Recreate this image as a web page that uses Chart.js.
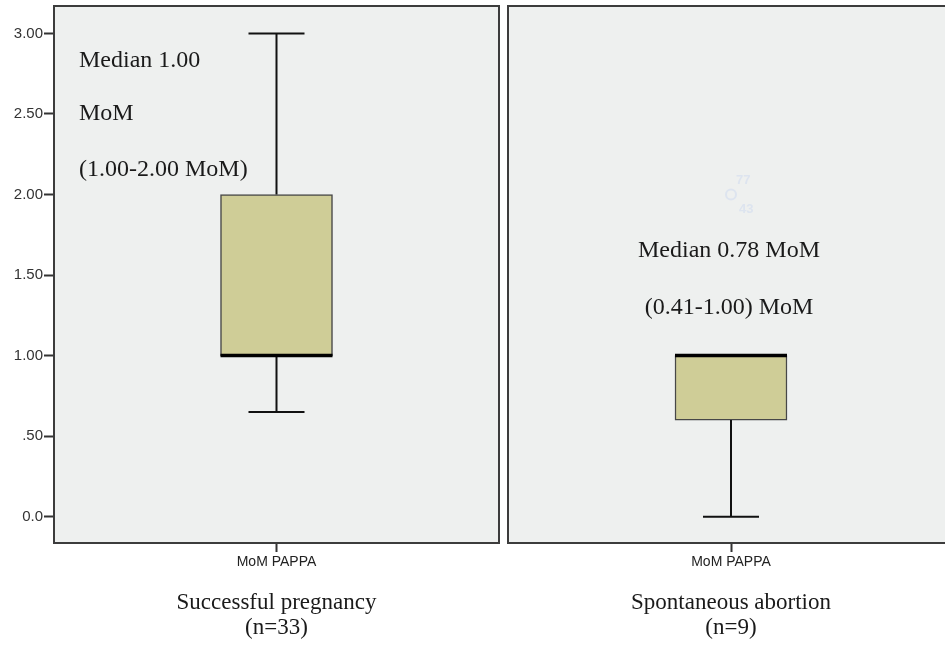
<!DOCTYPE html>
<html><head><meta charset="utf-8">
<script src="https://cdn.jsdelivr.net/npm/chart.js@4.4.1/dist/chart.umd.min.js"></script>
<style>
html,body{margin:0;padding:0;background:#fff;width:945px;height:646px;overflow:hidden;position:relative}
canvas{position:absolute;top:0}
#c0{left:0}
#c1{left:503px}
</style></head><body>
<canvas id="c0" width="503" height="646"></canvas>
<canvas id="c1" width="451" height="646"></canvas>
<script>
// ---- data ----
const categories = ['MoM PAPPA'];
const groupNames = ['Successful pregnancy', 'Spontaneous abortion'];
const groupSizes = ['(n=33)', '(n=9)'];
const whiskerLow = [0.65, 0.00];
const quartile1 = [1.00, 0.60];
const medians = [1.00, 1.00];
const quartile3 = [2.00, 1.00];
const whiskerHigh = [3.00, 1.00];
const outlierValues = [[], [2.00]];
const outlierLabels = [[], ['77', '43']];
const annotationLines = [['Median 1.00', 'MoM', '(1.00-2.00 MoM)'], ['Median 0.78 MoM', '(0.41-1.00) MoM']];
const tickValues = [0, 0.5, 1, 1.5, 2, 2.5, 3];
const tickLabels = ['0.0', '.50', '1.00', '1.50', '2.00', '2.50', '3.00'];
const yMin = -0.163, yMax = 3.17;

const SERIF = '"Liberation Serif","Times New Roman",serif';
const SANS = '"Liberation Sans",Arial,sans-serif';

const panelPlugin = {
  id: 'panel',
  beforeDraw(chart) {
    const a = chart.chartArea, ctx = chart.ctx;
    ctx.save();
    ctx.fillStyle = '#eef0ef';
    ctx.fillRect(a.left, a.top, a.right - a.left, a.bottom - a.top);
    ctx.restore();
  },
  afterDatasetsDraw(chart, args, opts) {
    const g = opts.group;
    const ctx = chart.ctx, ys = chart.scales.y;
    const a = chart.chartArea;
    const bar = chart.getDatasetMeta(0).data[0];
    const cx = bar.x, half = bar.width / 2, cap = half / 2;
    ctx.save();
    ctx.strokeStyle = '#111';
    ctx.lineWidth = 2;
    const yLo = ys.getPixelForValue(whiskerLow[g]);
    const yQ1 = ys.getPixelForValue(quartile1[g]);
    const yQ3 = ys.getPixelForValue(quartile3[g]);
    const yHi = ys.getPixelForValue(whiskerHigh[g]);
    ctx.beginPath();
    if (whiskerHigh[g] > quartile3[g]) {
      ctx.moveTo(cx, yQ3); ctx.lineTo(cx, yHi);
      ctx.moveTo(cx - cap, yHi); ctx.lineTo(cx + cap, yHi);
    }
    if (whiskerLow[g] < quartile1[g]) {
      ctx.moveTo(cx, yQ1); ctx.lineTo(cx, yLo);
      ctx.moveTo(cx - cap, yLo); ctx.lineTo(cx + cap, yLo);
    }
    ctx.stroke();
    // median
    const yMed = ys.getPixelForValue(medians[g]);
    ctx.lineWidth = 3.5;
    ctx.strokeStyle = '#000';
    ctx.beginPath();
    ctx.moveTo(cx - half, yMed); ctx.lineTo(cx + half, yMed);
    ctx.stroke();
    // outliers (faint)
    outlierValues[g].forEach(v => {
      const py = ys.getPixelForValue(v);
      ctx.strokeStyle = '#dde4ef';
      ctx.lineWidth = 2;
      ctx.beginPath();
      ctx.arc(cx, py, 5, 0, Math.PI * 2);
      ctx.stroke();
      ctx.fillStyle = '#dde4ef';
      ctx.font = 'bold 13px ' + SANS;
      ctx.textAlign = 'left';
      ctx.textBaseline = 'middle';
      const labs = outlierLabels[g];
      if (labs[0]) ctx.fillText(labs[0], cx + 5, py - 14);
      if (labs[1]) ctx.fillText(labs[1], cx + 8, py + 15);
    });
    // annotations
    ctx.fillStyle = '#1a1a1a';
    ctx.font = '24px ' + SERIF;
    ctx.textBaseline = 'alphabetic';
    if (g === 0) {
      ctx.textAlign = 'left';
      const bl = [67, 120, 176];
      annotationLines[g].forEach((t, i) => ctx.fillText(t, a.left + 25, bl[i]));
    } else {
      ctx.textAlign = 'center';
      const bl = [257, 314];
      annotationLines[g].forEach((t, i) => ctx.fillText(t, cx - 2, bl[i]));
    }
    ctx.restore();
  },
  afterDraw(chart) {
    const a = chart.chartArea, ctx = chart.ctx;
    ctx.save();
    ctx.strokeStyle = '#3c3c3c';
    ctx.lineWidth = 2;
    ctx.strokeRect(a.left, a.top, a.right - a.left, a.bottom - a.top);
    ctx.restore();
  }
};

function makeChart(id, g) {
  const showY = g === 0;
  return new Chart(document.getElementById(id), {
    type: 'bar',
    data: {
      labels: categories,
      datasets: [{
        data: [[quartile1[g], quartile3[g]]],
        backgroundColor: '#cfcd97',
        borderColor: '#474747',
        borderWidth: 1.5,
        borderSkipped: false,
        barThickness: 112
      }]
    },
    options: {
      responsive: false,
      animation: false,
      layout: { padding: showY ? { top: 6, right: 4, left: 0, bottom: 0 } : { top: 6, right: 0, left: 5, bottom: 0 } },
      plugins: {
        legend: { display: false },
        tooltip: { enabled: false },
        panel: { group: g }
      },
      scales: {
        x: {
          type: 'category',
          offset: true,
          grid: { offset: false, drawOnChartArea: false, tickLength: 9, color: '#333', tickWidth: 2 },
          border: { display: false },
          ticks: { font: { family: SANS, size: 14 }, color: '#222', padding: 2 },
          title: {
            display: true,
            text: [groupNames[g], groupSizes[g]],
            font: { family: SERIF, size: 23, lineHeight: 1.1 },
            color: '#1a1a1a',
            padding: { top: 0, bottom: 5 }
          },
          afterFit: s => { s.height = 103; s.paddingLeft = 0; s.paddingRight = 0; }
        },
        y: {
          display: showY,
          min: yMin,
          max: yMax,
          afterBuildTicks: s => { s.ticks = tickValues.map(v => ({ value: v })); },
          afterFit: s => { s.width = showY ? 54 : 0; s.paddingTop = 0; s.paddingBottom = 0; },
          ticks: {
            callback: v => tickLabels[tickValues.indexOf(v)],
            font: { family: SANS, size: 15 },
            color: '#333',
            padding: 1
          },
          grid: { drawOnChartArea: false, tickLength: 10, color: '#333', tickWidth: 2 },
          border: { display: false }
        }
      }
    },
    plugins: [panelPlugin]
  });
}
makeChart('c0', 0);
makeChart('c1', 1);
</script>
</body></html>
